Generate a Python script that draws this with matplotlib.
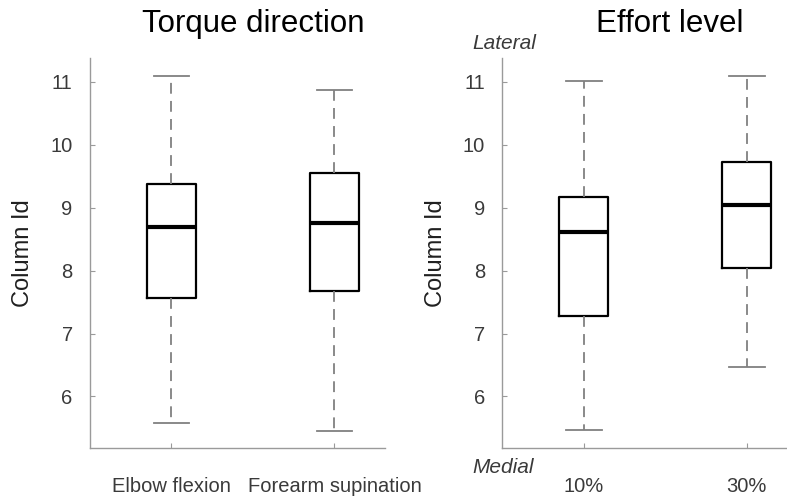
import matplotlib
matplotlib.use("Agg")
import matplotlib.pyplot as plt

plt.rcParams['font.family'] = ['Liberation Sans', 'DejaVu Sans']

# Panel 1: torque direction
torque_labels = ["Elbow flexion", "Forearm supination"]
torque_whislo = [5.58, 5.45]
torque_q1 = [7.56, 7.67]
torque_med = [8.70, 8.76]
torque_q3 = [9.38, 9.55]
torque_whishi = [11.09, 10.87]

# Panel 2: effort level
effort_labels = ["10%", "30%"]
effort_whislo = [5.46, 6.46]
effort_q1 = [7.28, 8.04]
effort_med = [8.61, 9.04]
effort_q3 = [9.17, 9.73]
effort_whishi = [11.01, 11.10]

yticks = [6, 7, 8, 9, 10, 11]

fig = plt.figure(figsize=(7.87, 5.0), dpi=100)
W, H = 787, 500
axw = 295 / W
ax1 = fig.add_axes([90 / W, 52 / H, axw, 390 / H])
ax2 = fig.add_axes([502.3 / W, 52 / H, axw, 390 / H])

spine_col = '#9a9a9a'
tick_txt = '#3a3a3a'


def draw(ax, labels, lo, q1, med, q3, hi):
    stats = []
    for i in range(len(labels)):
        stats.append(dict(med=med[i], q1=q1[i], q3=q3[i], whislo=lo[i],
                          whishi=hi[i], fliers=[], label=labels[i]))
    ax.bxp(stats, positions=[1, 2], widths=0.3, showfliers=False,
           boxprops=dict(color='black', linewidth=1.6),
           medianprops=dict(color='black', linewidth=3.0),
           whiskerprops=dict(color='#808080', linewidth=1.3,
                             linestyle=(0, (6, 4))),
           capprops=dict(color='#808080', linewidth=1.3),
           capwidths=0.22)
    ax.set_xlim(0.5, 2.31)
    ax.set_ylim(5.18, 11.38)
    ax.set_yticks(yticks)
    ax.set_yticklabels([str(t) for t in yticks])
    for s in ['top', 'right']:
        ax.spines[s].set_visible(False)
    for s in ['left', 'bottom']:
        ax.spines[s].set_color(spine_col)
        ax.spines[s].set_linewidth(1.0)
    ax.tick_params(axis='both', direction='in', length=3.5, color=spine_col,
                   labelcolor=tick_txt, labelsize=14.5)
    ax.tick_params(axis='y', pad=12.5)
    ax.tick_params(axis='x', pad=21)
    ax.set_ylabel("Column Id", fontsize=17, color='#202020')


draw(ax1, torque_labels, torque_whislo, torque_q1, torque_med, torque_q3, torque_whishi)
draw(ax2, effort_labels, effort_whislo, effort_q1, effort_med, effort_q3, effort_whishi)

ax1.yaxis.set_label_coords(-0.19, 0.5)
ax2.yaxis.set_label_coords(-0.187, 0.5)

fig.text(253.5 / W, 1 - 32 / H, "Torque direction", fontsize=22.5,
         ha='center', va='baseline', color='black')
fig.text(669.5 / W, 1 - 32 / H, "Effort level", fontsize=22.5,
         ha='center', va='baseline', color='black')
fig.text(504 / W, 1 - 49.3 / H, "Lateral", fontsize=15, style='italic',
         ha='center', va='baseline', color=tick_txt)
fig.text(503 / W, 1 - 473 / H, "Medial", fontsize=15, style='italic',
         ha='center', va='baseline', color=tick_txt)

fig.savefig("out.png", dpi=100)
